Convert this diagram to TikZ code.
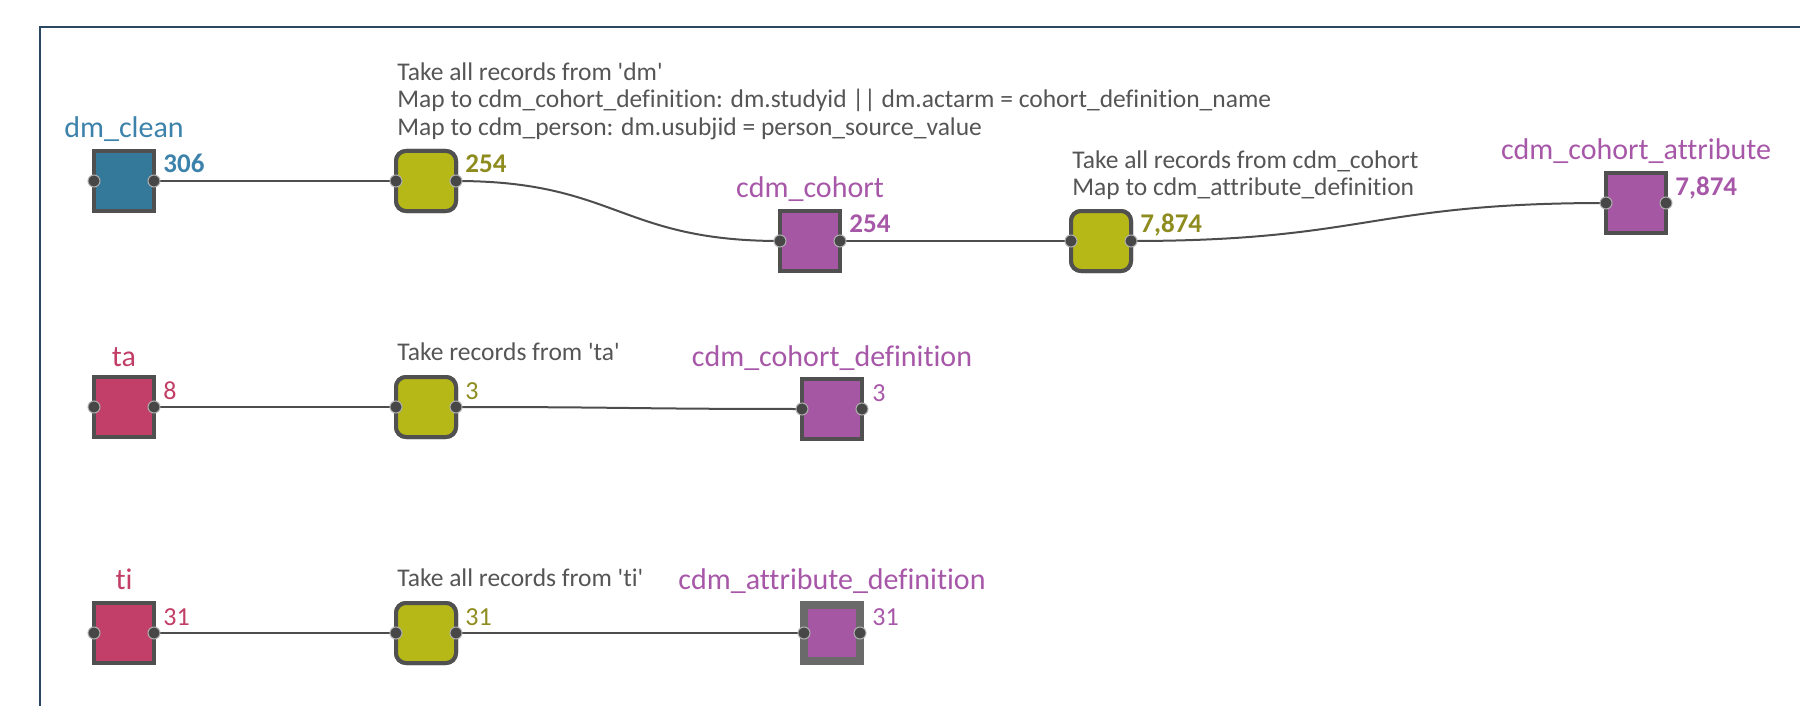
\documentclass[tikz,border=0pt]{standalone}
\usepackage{fontspec}
\setmainfont{Carlito}[Ligatures={TeX,NoCommon}]
\usetikzlibrary{calc}

\definecolor{frameblue}{HTML}{2B4862}
\definecolor{boxline}{HTML}{505050}
\definecolor{thickline}{HTML}{6A6A6A}
\definecolor{linkgray}{HTML}{4D4D4D}
\definecolor{portgray}{HTML}{474747}
\definecolor{portring}{HTML}{B0B0B0}
\definecolor{notegray}{HTML}{555555}
\definecolor{bluefill}{HTML}{34799A}
\definecolor{bluetext}{HTML}{3C82AB}
\definecolor{yellowfill}{HTML}{B6B817}
\definecolor{olivetext}{HTML}{8E8C1F}
\definecolor{purplefill}{HTML}{A557A4}
\definecolor{purpletext}{HTML}{A757A8}
\definecolor{crimsonfill}{HTML}{C13F68}
\definecolor{crimsontext}{HTML}{C23E66}

\newcommand{\sq}{\textquotesingle}

\begin{document}
\begin{tikzpicture}[x=0.5pt,y=-0.5pt,
  box/.style={draw=boxline, line width=2pt, minimum width=30pt, minimum height=30pt,
              inner sep=0pt, outer sep=0pt},
  srcbox/.style={box, fill=#1},
  stepbox/.style={box, fill=yellowfill, rounded corners=5pt},
  tblbox/.style={box, fill=purplefill},
  thickbox/.style={draw=thickline, line width=4pt, minimum width=28pt, minimum height=28pt,
              inner sep=0pt, outer sep=0pt, fill=purplefill},
  title/.style={font=\fontsize{15pt}{18pt}\selectfont, text=#1, anchor=base, inner sep=0pt},
  count/.style={font=\fontsize{13.5pt}{16pt}\selectfont\bfseries, text=#1, anchor=base west, inner sep=0pt},
  countlight/.style={font=\fontsize{13pt}{16pt}\selectfont, text=#1, anchor=base west, inner sep=0pt},
  note/.style={font=\fontsize{12.75pt}{15pt}\selectfont, text=notegray, anchor=base west, inner sep=0pt},
  port/.style={circle, fill=portgray, draw=portring, line width=0.5pt, minimum size=6pt, inner sep=0pt},
  link/.style={draw=linkgray, line width=1pt}
]
\useasboundingbox (0,0) rectangle (1800,706);

% frame
\draw[frameblue, line width=1.3pt] (40,706) -- (40,27) -- (1800,27);

% ---------- boxes ----------
\node[srcbox=bluefill]    (dmclean) at (124,181) {};
\node[stepbox]            (f1)      at (426,181) {};
\node[tblbox]             (cohort)  at (810,241) {};
\node[stepbox]            (f2)      at (1101,241) {};
\node[tblbox]             (cattr)   at (1636,203) {};

\node[srcbox=crimsonfill] (ta)      at (124,407) {};
\node[stepbox]            (f3)      at (426,407) {};
\node[tblbox]             (cdef)    at (832,409) {};

\node[srcbox=crimsonfill] (ti)      at (124,633) {};
\node[stepbox]            (f4)      at (426,633) {};
\node[thickbox]           (adef)    at (832,633) {};

% ---------- connectors ----------
\draw[link] (dmclean.east) -- (f1.west);
\draw[link] (f1.east) .. controls +(160,0) and +(-160,0) .. (cohort.west);
\draw[link] (cohort.east) -- (f2.west);
\draw[link] (f2.east) .. controls +(236,0) and +(-236,0) .. (cattr.west);
\draw[link] (ta.east) -- (f3.west);
\draw[link] (f3.east) .. controls +(171,0) and +(-171,0) .. (cdef.west);
\draw[link] (ti.east) -- (f4.west);
\draw[link] (f4.east) -- (adef.west);

% redraw boxes over the connector ends
\node[srcbox=bluefill]    (dmclean-top) at (dmclean) {};
\node[stepbox]            (f1-top)      at (f1) {};
\node[tblbox]             (cohort-top)  at (cohort) {};
\node[stepbox]            (f2-top)      at (f2) {};
\node[tblbox]             (cattr-top)   at (cattr) {};
\node[srcbox=crimsonfill] (ta-top)      at (ta) {};
\node[stepbox]            (f3-top)      at (f3) {};
\node[tblbox]             (cdef-top)    at (cdef) {};
\node[srcbox=crimsonfill] (ti-top)      at (ti) {};
\node[stepbox]            (f4-top)      at (f4) {};
\node[thickbox]           (adef-top)    at (adef) {};

% ---------- ports ----------
\foreach \n in {dmclean,f1,cohort,f2,cattr,ta,f3,cdef,ti,f4,adef}{
  \node[port] (\n-in)  at (\n.west) {};
  \node[port] (\n-out) at (\n.east) {};
}

% ---------- titles ----------
\node[title=bluetext]    (dmclean-t) at (124,138) {dm\_clean};
\node[title=purpletext]  (cohort-t)  at (810,198) {cdm\_cohort};
\node[title=purpletext]  (cattr-t)   at (1636,160) {cdm\_cohort\_attribute};
\node[title=crimsontext] (ta-t)      at (124,366) {ta};
\node[title=purpletext]  (cdef-t)    at (832,366) {cdm\_cohort\_definition};
\node[title=crimsontext] (ti-t)      at (124,589) {ti};
\node[title=purpletext]  (adef-t)    at (832,589) {cdm\_attribute\_definition};

% ---------- counts ----------
\node[count=bluetext]   (dmclean-c) at (163,173) {306};
\node[count=olivetext]  (f1-c)      at (465,173) {254};
\node[count=purpletext] (cohort-c)  at (849,233) {254};
\node[count=olivetext]  (f2-c)      at (1140,233) {7,874};
\node[count=purpletext] (cattr-c)   at (1675,196) {7,874};
\node[countlight=crimsontext] (ta-c)   at (163,399) {8};
\node[countlight=olivetext]   (f3-c)   at (465,399) {3};
\node[countlight=purpletext]  (cdef-c) at (872,401) {3};
\node[countlight=crimsontext] (ti-c)   at (163,625) {31};
\node[countlight=olivetext]   (f4-c)   at (465,625) {31};
\node[countlight=purpletext]  (adef-c) at (872,625) {31};

% ---------- step descriptions ----------
\node[note] (f1-n1) at (397,81)  {Take all records from \sq dm\sq};
\node[note] (f1-n2) at (397,108) {Map to cdm\_cohort\_definition: dm.studyid || dm.actarm = cohort\_definition\_name};
\node[note] (f1-n3) at (397,135) {Map to cdm\_person: dm.usubjid = person\_source\_value};
\node[note] (f2-n1) at (1072,169) {Take all records from cdm\_cohort};
\node[note] (f2-n2) at (1072,196) {Map to cdm\_attribute\_definition};
\node[note] (f3-n1) at (397,360) {Take records from \sq ta\sq};
\node[note] (f4-n1) at (397,586) {Take all records from \sq ti\sq};
\end{tikzpicture}
\end{document}
